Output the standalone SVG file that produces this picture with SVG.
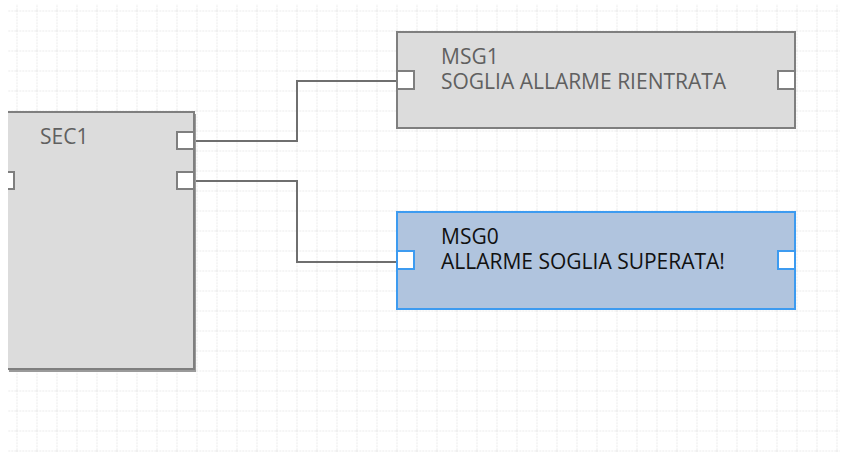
<svg xmlns="http://www.w3.org/2000/svg" width="845" height="454" viewBox="0 0 845 454">
<style>
.grid{stroke:#c9c9c9;stroke-width:1;stroke-dasharray:1.5,1.5;fill:none}
.node{fill:#dcdcdc;stroke:#7f7f7f;stroke-width:2}
.sel{fill:#b0c4de;stroke:#3d9bf0;stroke-width:2}
.port{fill:#ffffff;stroke:#7f7f7f;stroke-width:2}
.sport{fill:#ffffff;stroke:#3d9bf0;stroke-width:2}
.lbl{font-family:"Open Sans","Noto Sans","Liberation Sans",sans-serif;font-size:21px;fill:#606060}
.lbls{font-family:"Open Sans","Noto Sans","Liberation Sans",sans-serif;font-size:21px;fill:#111111}
.wire{stroke:#6f6f6f;stroke-width:2;fill:none}
</style>
<defs>
<pattern id="gp" x="16.5" y="10.5" width="20" height="20" patternUnits="userSpaceOnUse">
<path d="M0 0H20M0 0V20" class="grid"/>
</pattern>
</defs>
<rect width="845" height="454" fill="#ffffff"/>
<rect x="8" y="4" width="832" height="448" fill="url(#gp)"/>
<g id="connectors">
<path class="wire" d="M194 141H297V81H398"/>
<path class="wire" d="M194 181H297V262H398"/>
</g>
<g id="SEC1">
<rect x="9" y="114" width="187" height="258" fill="#9a9a9a"/>
<rect class="node" x="4" y="112" width="190" height="257"/>
<rect class="port" x="177" y="132" width="17" height="17"/>
<rect class="port" x="177" y="172" width="17" height="17"/>
<rect class="port" x="0" y="172" width="14" height="17"/>
<text class="lbl" x="40" y="144">SEC1</text>
</g>
<g id="MSG1">
<rect class="node" x="397" y="32" width="398" height="96"/>
<rect class="port" x="397" y="71" width="17" height="18"/>
<rect class="port" x="778" y="71" width="17" height="18"/>
<text class="lbl" x="441" y="64">MSG1</text>
<text class="lbl" x="441" y="89">SOGLIA ALLARME RIENTRATA</text>
</g>
<g id="MSG0">
<rect class="sel" x="397" y="212" width="398" height="97"/>
<rect class="sport" x="397" y="251" width="17" height="18"/>
<rect class="sport" x="778" y="251" width="17" height="18"/>
<text class="lbls" x="441" y="244">MSG0</text>
<text class="lbls" x="441" y="269">ALLARME SOGLIA SUPERATA!</text>
</g>
<rect x="0" y="0" width="8" height="454" fill="#ffffff"/>
</svg>
